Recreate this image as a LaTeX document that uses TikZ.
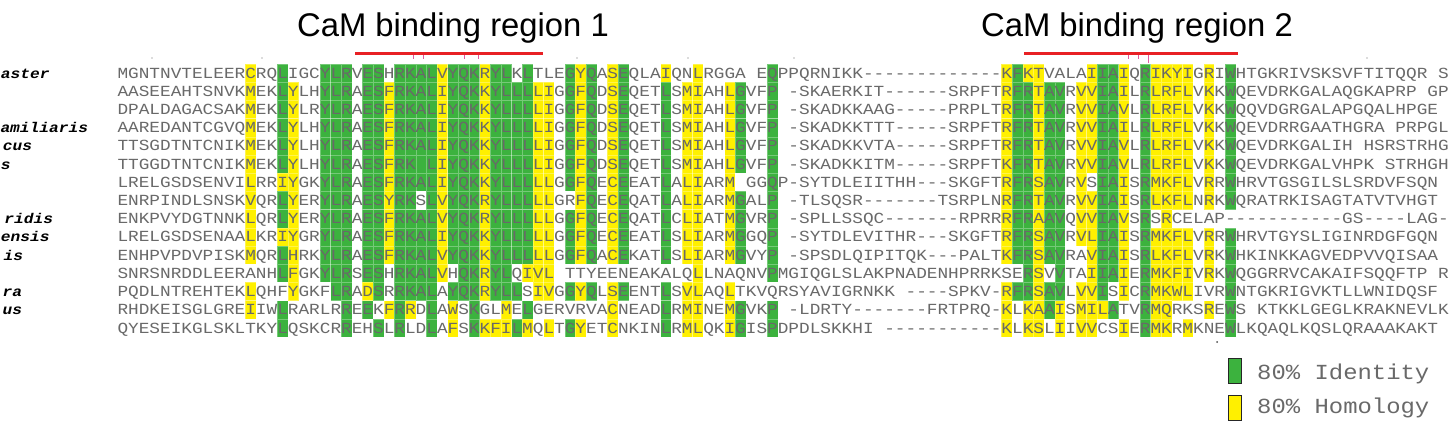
\documentclass[tikz,border=0pt]{standalone}
\usepackage{fontspec}
\usepackage{graphicx}
\newfontfamily\seqfont{Liberation Mono}
\newfontfamily\titlefont{Liberation Sans}
\definecolor{idgreen}{RGB}{60,178,62}
\definecolor{homyellow}{RGB}{255,240,0}
\definecolor{seqgray}{RGB}{105,105,105}
\definecolor{camred}{RGB}{232,32,36}
\definecolor{tickpink}{RGB}{226,90,160}
\newcommand\seqx{117.5}
\newcommand\seqw{10.65}
\newcommand\rowy{73}
\newcommand\rowh{18.21}
\newcommand\basesh{5.1}
\makeatletter
\newcount\shaderow
\newcommand\shadecol[2]{%
  \shaderow=0
  \@tfor\shadech:=#2\do{%
    \advance\shaderow by 1
    \pgfmathsetmacro\cellx{\seqx+(#1-1)*\seqw}%
    \pgfmathsetmacro\celly{\rowy+(\the\shaderow-1)*\rowh-\rowh/2}%
    \if\shadech g\fill[idcell] (\cellx,\celly) rectangle ++(\seqw,\rowh);\fi
    \if\shadech y\fill[homcell] (\cellx,\celly) rectangle ++(\seqw,\rowh);\fi
  }}
\makeatother
\newcommand\seqrow[3]{\node[seqtext] (#1) at (\seqx,{\rowy+(#2-1)*\rowh+\basesh}) {\scalebox{1}[0.87]{#3}};}
\newcommand\labrow[4]{\node[labtext] (#1) at (#3,{\rowy+(#2-1)*\rowh+\basesh}) {\scalebox{1}[0.87]{#4}};}
\begin{document}
\begin{tikzpicture}[x=1pt,y=-1pt,
  idcell/.style={fill=idgreen,draw=white,draw opacity=0.3,line width=0.4pt},
  homcell/.style={fill=homyellow,draw=white,draw opacity=0.3,line width=0.4pt},
  seqtext/.style={anchor=base west,inner sep=0pt,outer sep=0pt,text=seqgray,font=\seqfont\fontsize{17.75}{18}\selectfont},
  labtext/.style={anchor=base east,inner sep=0pt,outer sep=0pt,text=black,font=\seqfont\bfseries\itshape\fontsize{16.2}{18}\selectfont},
  titletext/.style={anchor=base,inner sep=0pt,text=black,font=\titlefont\fontsize{32.8}{36}\selectfont},
  camline/.style={draw=camred,line width=2.8pt},
  pinktick/.style={draw=tickpink,line width=0.9pt},
  legbox/.style={draw=black!85,line width=0.9pt,inner sep=0pt,minimum width=13pt,minimum height=25pt},
  legtext/.style={anchor=base west,inner sep=0pt,text=seqgray,font=\seqfont\fontsize{23.9}{26}\selectfont}]
\useasboundingbox (0,0) rectangle (1449,422);
\clip (0,0) rectangle (1449,422);
\fill[white] (0,0) rectangle (1449,422);
% titles
\node[titletext] (title1) at (453,37) {CaM binding region 1};
\node[titletext] (title2) at (1137,37) {CaM binding region 2};
% red bars and ticks
\coordinate (r1a) at (355,53.5); \coordinate (r1b) at (543,53.5);
\coordinate (r2a) at (1024,53.5); \coordinate (r2b) at (1238,53.5);
\draw[camline] (r1a) -- (r1b);
\draw[camline] (r2a) -- (r2b);
\foreach \tx in {413,423,464,478,1128,1138}{\draw[pinktick] (\tx,55.5) -- (\tx,59);}
\draw[pinktick] (1148,55.5) -- (1148,63);
\foreach \tx in {152,262,577,688,794,1367}{\fill[gray!55] (\tx,58) circle (0.8);}
% shading, region 1
\shadecol{13}{yyyyyyyyyyy.yy.}
\shadecol{16}{ggggggyggygg.gg}
\shadecol{17}{.yyyyyyyyyyyy..}
\shadecol{20}{gggggggggggg...}
\shadecol{21}{ggggggggggggg..}
\shadecol{22}{ggggggggggggggg}
\shadecol{24}{ggggggggggggyg.}
\shadecol{25}{ggggggggggggg.g}
\shadecol{26}{.yyyyyyyyyy..y.}
\shadecol{27}{ggggggggggggggg}
\shadecol{28}{gggggggggggggy.}
\shadecol{29}{ggggggg.ggggg..}
\shadecol{30}{ggggggggggggggg}
\shadecol{31}{yyyyyyyyyyyy...}
\shadecol{32}{ggggggggggg.gyy}
\shadecol{33}{ggggggggggggg..}
\shadecol{34}{ggggggggggggggg}
\shadecol{35}{yyyyyyyyyyyyy.y}
\shadecol{36}{ggggggggggggg.y}
\shadecol{37}{gggggggggggggyy}
\shadecol{38}{.gggggggggg.g.g}
\shadecol{39}{gggggggggggy.gy}
\shadecol{40}{.yyyyyyyyyyyy..}
\shadecol{41}{.yyyyyyyyyyyy.y}
\shadecol{43}{ggggggg.ggg.g.g}
\shadecol{44}{yyyyyyyyyyy.y.y}
\shadecol{45}{ggggggggggg.g..}
\shadecol{47}{yyyyyyyyyyy.yyy}
\shadecol{48}{ggggggggggg.g..}
\shadecol{52}{ygggggggggg.ggg}
\shadecol{54}{.yyyyyyyyyy.yyy}
\shadecol{55}{yyyyyyyyyyyyyyy}
\shadecol{58}{.yyyyyyyyyy.yyy}
\shadecol{59}{.ggggg.gggg..gg}
\shadecol{62}{gggggggggggg.gg}
% shading, region 2
\shadecol{84}{yyyyyyyyyyy.yyy}
\shadecol{85}{ggggggggggg.g..}
\shadecol{86}{yggggggggggggyy}
\shadecol{87}{yyyyyyyyyyyyyyy}
\shadecol{88}{.gggggggggg.gg.}
\shadecol{89}{.ggggggggggggyy}
\shadecol{91}{.yyyyyyyyy..yyy}
\shadecol{92}{yyyyyy.yyyyyyyy}
\shadecol{93}{gggggggggggggy.}
\shadecol{94}{gggggggggggg.g.}
\shadecol{95}{yyyyyyyyyyyyy.y}
\shadecol{97}{ggggggggggggggg}
\shadecol{98}{yyyyyyyy.yyyyyy}
\shadecol{99}{yyyyyyyyyyyyyyy}
\shadecol{100}{yyyyyyyy.yyyy..}
\shadecol{101}{yyyyyyyy.yyyy.y}
\shadecol{103}{yyyyyyyy.yyy.y.}
\shadecol{105}{gggggggg.gggggg}
% sequences
\seqrow{s1}{1}{MGNTNVTELEERCRQLIGCYLRVESHRKALVYQKRYLKLTLEGYQASEQLAIQNLRGGA EQPPQRNIKK-------------KFKTVALAIIAIQRIKYIGRIWHTGKRIVSKSVFTITQQR S}
\seqrow{s2}{2}{AASEEAHTSNVKMEKLYLHYLRAESFRKALIYQKKYLLLLIGGFQDSEQETLSMIAHLGVFP -SKAERKIT------SRPFTRFRTAVRVVIAILRLRFLVKKWQEVDRKGALAQGKAPRP GP}
\seqrow{s3}{3}{DPALDAGACSAKMEKLYLRYLRAESFRKALIYQKKYLLLLIGGFQDSEQETLSMIAHLGVFP -SKADKKAAG-----PRPLTRFRTAVRVVIAVLRLRFLVKKWQQVDGRGALAPGQALHPGE}
\seqrow{s4}{4}{AAREDANTCGVQMEKLYLHYLRAESFRKALIYQKKYLLLLIGGFQDSEQETLSMIAHLGVFP -SKADKKTTT-----SRPFTRFRTAVRVVIAILRLRFLVKKWQEVDRRGAATHGRA PRPGL}
\seqrow{s5}{5}{TTSGDTNTCNIKMEKLYLHYLRAESFRKALIYQKKYLLLLIGGFQDSEQETLSMIAHLGVFP -SKADKKVTA-----SRPFTRFRTAVRVVIAVLRLRFLVKKWQEVDRKGALIH HSRSTRHG}
\seqrow{s6}{6}{TTGGDTNTCNIKMEKLYLHYLRAESFRK LIYQKKYLLLLIGGFQDSEQETLSMIAHLGVFP -SKADKKITM-----SRPFTKFRTAVRVVIAVLRLRFLVKKWQEVDRKGALVHPK STRHGH}
\seqrow{s7}{7}{LRELGSDSENVILRRIYGKYLRAESFRKALIYQKKYLLLLLGGFQECEEATLALIARM GGQP-SYTDLEIITHH---SKGFTRFRSAVRVSIAISRMKFLVRRWHRVTGSGILSLSRDVFSQN}
\seqrow{s8}{8}{ENRPINDLSNSKVQRLYERYLRAESYRKSLVYQKRYLLLLLGRFQECEQATLALIARMGALP -TLSQSR-------TSRPLNRFRTAVRVVIAISRLKFLNRKWQRATRKISAGTATVTVHGT}
\seqrow{s9}{9}{ENKPVYDGTNNKLQRLYERYLRAESFRKALVYQKRYLLLLLGGFQECEQATLCLIATMGVRP -SPLLSSQC-------RPRRRFRAAVQVVIAVSRSRCELAP-----------GS----LAG-}
\seqrow{s10}{10}{LRELGSDSENAALKRIYGRYLRAESFRKALIYQKKYLLLLLGGFQECEEATLSLIARMGGQP -SYTDLEVITHR---SKGFTRFRSAVRVLIAISRMKFLVRRWHRVTGYSLIGINRDGFGQN}
\seqrow{s11}{11}{ENHPVPDVPISKMQRLHRKYLRAESFRKALVYQKKYLLLLLGGFQACEKATLSLIARMGVYP -SPSDLQIPITQK---PALTKFRSAVRAVIAISRLKFLVRKWHKINKKAGVEDPVVQISAA}
\seqrow{s12}{12}{SNRSNRDDLEERANHLFGKYLRSESHRKALVHQKRYLQIVL TTYEENEAKALQLLNAQNVPMGIQGLSLAKPNADENHPRRKSERSVVTAIIAIERMKFIVRKWQGGRRVCAKAIFSQQFTP R}
\seqrow{s13}{13}{PQDLNTREHTEKLQHFYGKFLRADSRRKALAYQKRYLLSIVGGYQLSEENTLSVLAQLTKVQRSYAVIGRNKK ----SPKV-RFRSAVLVVISICRMKWLIVRWNTGKRIGVKTLLWNIDQSF}
\seqrow{s14}{14}{RHDKEISGLGREIIWLRARLRREEKFRRDLAWSKGLMELGERVRVACNEADLRMINEMGVKP -LDRTY-------FRTPRQ-KLKAAISMILATVRMQRKSREWS KTKKLGEGLKRAKNEVLK}
\seqrow{s15}{15}{QYESEIKGLSKLTKYLQSKCRREHSLRLDLAFSKKFILMQLTGYETCNKINLRMLQKIGISPDPDLSKKHI -----------KLKSLIIVVCSIERMKRMKNEWLKQAQLKQSLQRAAAKAKT}
% species labels
\labrow{lab1}{1}{49.5}{aster}
\labrow{lab4}{4}{88}{amiliaris}
\labrow{lab5}{5}{32}{cus}
\labrow{lab6}{6}{10.5}{s}
\labrow{lab9}{9}{53}{ridis}
\labrow{lab10}{10}{49.5}{ensis}
\labrow{lab11}{11}{23}{is}
\labrow{lab13}{13}{22}{ra}
\labrow{lab14}{14}{22}{us}
\fill[black!70] (1217,342) circle (1);
% legend
\node[legbox,fill=idgreen] (legg) at (1234.5,370.5) {};
\node[legbox,fill=homyellow] (legy) at (1234.5,407.5) {};
\node[legtext] (legid) at (1257,379) {\scalebox{1}[0.9]{80\% Identity}};
\node[legtext] (leghom) at (1257,413) {\scalebox{1}[0.9]{80\% Homology}};
\end{tikzpicture}
\end{document}
